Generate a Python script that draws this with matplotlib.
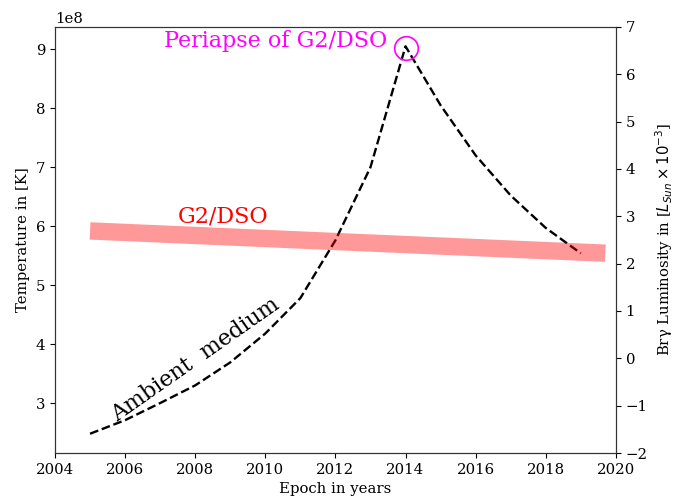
import matplotlib
matplotlib.use("Agg")
import matplotlib.pyplot as plt
import numpy as np

plt.rcParams["font.family"] = ["DejaVu Serif"]
plt.rcParams["font.size"] = 10.7
plt.rcParams["axes.edgecolor"] = "#333333"

# ambient medium temperature (K)
years = [2005, 2006, 2007, 2008, 2009, 2010, 2011, 2012, 2013, 2014, 2015, 2016, 2017, 2018, 2019]
temp = [2.48e8, 2.71e8, 3.0e8, 3.3e8, 3.69e8, 4.18e8, 4.78e8, 5.76e8, 7.0e8, 9.05e8,
        8.05e8, 7.2e8, 6.52e8, 5.97e8, 5.54e8]

# G2/DSO Br-gamma luminosity band
g2_years = [2005, 2019.7]
g2_lum = [2.69, 2.22]

peri_year = 2014
peri_temp = 9.02e8

fig = plt.figure(figsize=(6.79, 4.97), dpi=100)
ax = fig.add_axes([0.081, 0.0885, 0.826, 0.8575])
ax.plot(years, temp, "k--", lw=1.7)
ax.plot(peri_year, peri_temp, "o", ms=17, mfc="none", mec="magenta", mew=1.2)
ax.set_xlim(2004, 2020)
ax.set_ylim(2.153e8, 9.38e8)
ax.set_xlabel("Epoch in years")
ax.set_ylabel("Temperature in [K]")

ax.text(2013.47, 9.14e8, "Periapse of G2/DSO", color="magenta", fontsize=16,
        ha="right", va="center")
ax.text(2007.5, 6.16e8, "G2/DSO", color="red", fontsize=16, ha="left", va="center")
ax.text(2008.0, 3.73e8, "Ambient  medium", color="black", fontsize=16,
        rotation=35, ha="center", va="center", rotation_mode="anchor")

ax2 = ax.twinx()
ax2.plot(g2_years, g2_lum, color="red", alpha=0.4, lw=12.5, solid_capstyle="butt")
ax2.set_ylim(-2, 7)
ax2.set_ylabel(r"Brγ Luminosity in [$L_{Sun}\times 10^{-3}$]")

fig.savefig("out.png", dpi=100)
